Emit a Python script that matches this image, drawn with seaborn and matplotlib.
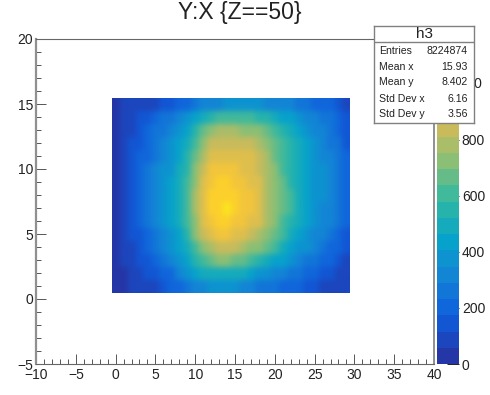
import matplotlib
matplotlib.use("Agg")
import matplotlib.pyplot as plt
import seaborn as sns
import numpy as np
import pandas as pd
from matplotlib.colors import LinearSegmentedColormap
from matplotlib.ticker import MultipleLocator

sns.set_style("white")
plt.rcParams['font.family'] = ['Liberation Sans', 'DejaVu Sans']

# coarse grid of counts (top row first)
x_start, y_start = -0.5, 0.5
x_bins = [-0.5 + i for i in range(30)]
y_bins = [15, 14, 13, 12, 11, 10, 9, 8, 7, 6, 5, 4, 3, 2, 1]

row_15 = [50, 60, 70, 80, 90, 110, 140, 170, 200, 230, 260, 290, 320, 340, 360, 370, 370, 365, 355, 345, 330, 310, 290, 270, 250, 230, 210, 180, 150, 110]
row_14 = [50, 70, 90, 120, 160, 200, 240, 280, 330, 380, 450, 510, 570, 610, 620, 620, 610, 590, 560, 530, 490, 450, 410, 380, 340, 300, 270, 240, 200, 140]
row_13 = [50, 70, 100, 150, 200, 240, 280, 320, 380, 450, 540, 640, 720, 760, 770, 760, 750, 730, 700, 650, 590, 530, 480, 430, 390, 340, 300, 260, 220, 160]
row_12 = [50, 80, 120, 170, 220, 270, 320, 370, 430, 510, 620, 740, 830, 860, 860, 860, 850, 830, 780, 730, 670, 600, 530, 470, 420, 370, 330, 280, 240, 170]
row_11 = [50, 80, 130, 180, 230, 280, 330, 380, 450, 540, 680, 810, 890, 920, 920, 900, 890, 870, 830, 760, 690, 620, 550, 490, 430, 380, 340, 290, 250, 180]
row_10 = [50, 80, 130, 190, 240, 300, 350, 400, 470, 570, 720, 850, 930, 950, 950, 940, 920, 900, 850, 780, 710, 630, 560, 500, 440, 390, 350, 300, 250, 190]
row_9 = [50, 90, 140, 190, 250, 310, 360, 420, 490, 600, 750, 890, 970, 1000, 990, 970, 950, 920, 870, 790, 710, 640, 570, 510, 450, 400, 350, 300, 260, 190]
row_8 = [50, 90, 140, 200, 260, 320, 370, 430, 500, 620, 780, 920, 1000, 1030, 1030, 1000, 970, 940, 890, 810, 730, 650, 580, 510, 450, 400, 350, 300, 260, 190]
row_7 = [50, 90, 140, 190, 250, 310, 370, 430, 500, 620, 780, 920, 1010, 1040, 1050, 1010, 970, 940, 890, 810, 730, 650, 580, 510, 450, 390, 340, 300, 260, 190]
row_6 = [50, 80, 130, 190, 240, 300, 360, 410, 490, 600, 750, 890, 980, 1000, 1010, 980, 950, 920, 870, 790, 700, 630, 560, 490, 430, 380, 330, 290, 240, 180]
row_5 = [50, 80, 120, 170, 220, 270, 330, 380, 450, 560, 700, 830, 910, 930, 930, 910, 880, 850, 800, 720, 650, 580, 510, 450, 390, 340, 300, 260, 220, 160]
row_4 = [50, 70, 100, 150, 200, 250, 300, 350, 410, 510, 630, 740, 810, 840, 840, 820, 790, 750, 700, 640, 580, 510, 450, 400, 350, 300, 260, 230, 190, 140]
row_3 = [50, 60, 80, 120, 160, 200, 240, 290, 350, 430, 530, 620, 680, 700, 700, 680, 650, 610, 560, 510, 460, 410, 360, 320, 280, 240, 210, 180, 150, 110]
row_2 = [50, 55, 70, 90, 120, 150, 190, 230, 290, 350, 410, 470, 510, 520, 520, 500, 480, 440, 400, 370, 340, 300, 270, 240, 210, 180, 150, 130, 110, 80]
row_1 = [50, 50, 60, 75, 90, 115, 150, 190, 230, 270, 310, 340, 360, 370, 370, 350, 340, 310, 285, 260, 240, 215, 195, 175, 155, 130, 110, 90, 75, 60]

stats_names = ["Entries", "Mean x", "Mean y", "Std Dev x", "Std Dev y"]
stats_values = ["8224874", "15.93", "8.402", "6.16", "3.56"]
cbar_ticks = [0, 200, 400, 600, 800, 1000]

W, H = 490.0, 395.0

# ROOT kBird palette, 20 contours
bird = ["#2536a6", "#0f5cdd", "#1481d6", "#06a4ca", "#2eb7a4",
        "#87bf77", "#d1bb59", "#fec832", "#f9fb0e"]
cmap = LinearSegmentedColormap.from_list("bird", bird, N=20)


def px_axes(fig, x0, y0, x1, y1, **kw):
    return fig.add_axes([x0 / W, 1 - y1 / H, (x1 - x0) / W, (y1 - y0) / H], **kw)


def soften(image, dpi):
    # the coarse cells get smoothed when drawn, the outer edge of the mesh stays sharp
    kernel = np.exp(-0.5 * (np.arange(-8, 9) / 3.0) ** 2)
    kernel /= kernel.sum()
    alpha = image[..., 3]
    out = image.copy()
    weight = alpha.copy()
    for axis in (0, 1):
        weight = np.apply_along_axis(np.convolve, axis, weight, kernel, mode="same")
    for c in range(3):
        chan = image[..., c] * alpha
        for axis in (0, 1):
            chan = np.apply_along_axis(np.convolve, axis, chan, kernel, mode="same")
        out[..., c] = chan / np.maximum(weight, 1e-6)
    return out, 0, 0


def plot_main(fig):
    ax = px_axes(fig, 36, 39, 434, 364)
    ax.set_xlim(-10, 40)
    ax.set_ylim(-5, 20)
    ax.xaxis.set_major_locator(MultipleLocator(5))
    ax.xaxis.set_minor_locator(MultipleLocator(1))
    ax.yaxis.set_major_locator(MultipleLocator(5))
    ax.yaxis.set_minor_locator(MultipleLocator(1))
    ax.tick_params(which="major", bottom=True, left=True, direction="in", length=7,
                   width=0.7, color="#555555", labelsize=10, labelcolor="#222222", pad=2)
    ax.tick_params(which="minor", bottom=True, left=True, direction="in", length=3.6,
                   width=0.7, color="#555555")
    ax.tick_params(axis="x", which="major", pad=3)
    for side, col, lw in [("left", "#909090", 1.6), ("bottom", "#666666", 0.8),
                          ("top", "#666666", 0.8), ("right", "#909090", 1.4)]:
        ax.spines[side].set_color(col)
        ax.spines[side].set_linewidth(lw)
    return ax


def plot_heat(ax, cax):
    grid = pd.DataFrame([row_15, row_14, row_13, row_12, row_11, row_10, row_9, row_8,
                         row_7, row_6, row_5, row_4, row_3, row_2, row_1],
                        index=y_bins, columns=x_bins)
    inner = ax.inset_axes([x_start, y_start, grid.shape[1], grid.shape[0]],
                          transform=ax.transData)
    sns.heatmap(grid, ax=inner, cmap=cmap, vmin=0, vmax=1160, cbar_ax=cax,
                xticklabels=False, yticklabels=False,
                cbar_kws={"ticks": cbar_ticks})
    inner.set_xlabel("")
    inner.set_ylabel("")
    inner.axis("off")
    inner.collections[0].set_agg_filter(soften)

    cbar = inner.collections[0].colorbar
    cbar.outline.set_visible(False)
    cax.tick_params(axis="y", right=True, direction="in", length=8.5, width=0.7,
                    color="#222222", labelsize=10, labelcolor="#222222", pad=2)
    # ROOT pulls the widest label back in, it ends up under the stats box
    cax.set_yticklabels(["0", "200", "400", "600", "800", ""])
    cax.text(2.04, 1000, "1000", ha="right", va="center", fontsize=10, color="#222222",
             transform=cax.get_yaxis_transform())


def plot_stats(fig):
    box = px_axes(fig, 374, 26, 474, 123, zorder=10)
    box.set_xlim(374, 474)
    box.set_ylim(123, 26)
    box.set_xticks([])
    box.set_yticks([])
    box.set_facecolor("white")
    for s in box.spines.values():
        s.set_color("#808080")
        s.set_linewidth(1.0)
    box.axhline(42, color="#808080", lw=1.0)
    box.text(424, 34, "h3", ha="center", va="center", fontsize=11, color="#222222")
    rows = [51, 67, 82, 99, 114]
    for r, name, val in zip(rows, stats_names, stats_values):
        box.text(379, r, name, ha="left", va="center", fontsize=7.6, color="#222222")
        box.text(468, r, val, ha="right", va="center", fontsize=7.6, color="#222222")


fig = plt.figure(figsize=(W / 100, H / 100), dpi=100)
ax = plot_main(fig)
cax = px_axes(fig, 437, 39, 459, 364)
plot_heat(ax, cax)
plot_stats(fig)
fig.text(240 / W, 1 - 13 / H, "Y:X {Z==50}", ha="center", va="center", fontsize=16.5,
         color="#222222")
fig.savefig("out.png", dpi=100)
